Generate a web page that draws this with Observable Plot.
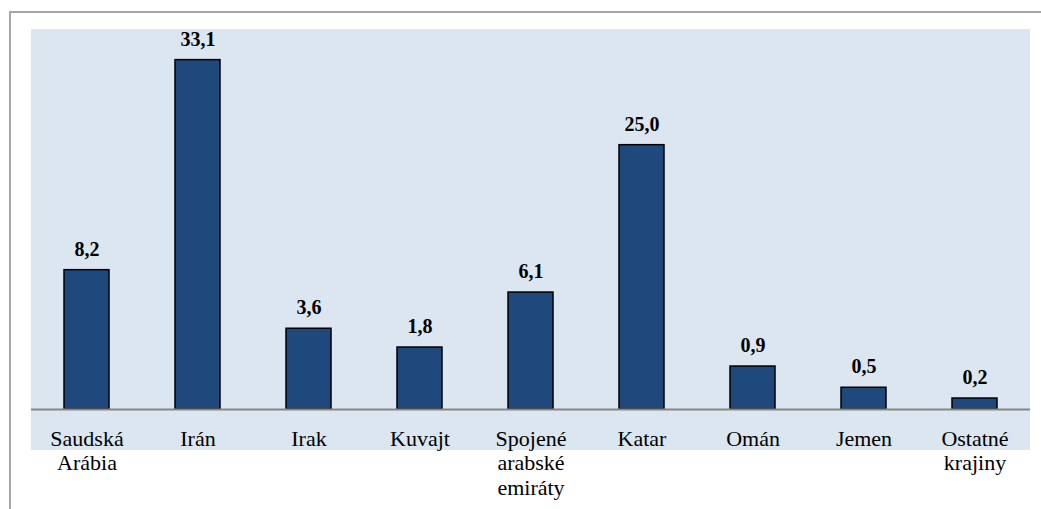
<!DOCTYPE html>
<html>
<head>
<meta charset="utf-8">
<script src="https://cdn.jsdelivr.net/npm/d3@7"></script>
<script src="https://cdn.jsdelivr.net/npm/@observablehq/plot@0.6"></script>
<style>
  html, body { margin: 0; padding: 0; background: #ffffff; }
  #wrap { position: relative; width: 1041px; height: 509px; overflow: hidden; }
  #frameTop { position: absolute; left: 9px; top: 11px; width: 1032px; height: 2px; background: #a6a6a6; }
  #frameLeft { position: absolute; left: 9px; top: 11px; width: 2px; height: 498px; background: #a6a6a6; }
  #bg { position: absolute; left: 31px; top: 29px; width: 999px; height: 421px; background: #dce6f1; }
  #chart { position: absolute; left: 0; top: 0; }
  #chart svg { background: transparent !important; }
  #chart svg, #chart svg text, #chart svg tspan { font-family: "Liberation Serif", "Times New Roman", serif !important; }
</style>
</head>
<body>
<div id="wrap">
  <div id="frameTop"></div>
  <div id="frameLeft"></div>
  <div id="bg"></div>
  <div id="chart"></div>
</div>
<script>
// Categories (line breaks as in the reference labels)
const countries = [
  "Saudská\nArábia", "Irán", "Irak", "Kuvajt", "Spojené\narabské\nemiráty",
  "Katar", "Omán", "Jemen", "Ostatné\nkrajiny"
];
// Printed data labels
const labelValues = [8.2, 33.1, 3.6, 1.8, 6.1, 25.0, 0.9, 0.5, 0.2];
// Bar heights as drawn in the reference (same axis units)
const barHeights = [13.2, 33.1, 7.65, 5.87, 11.08, 25.04, 4.07, 2.06, 1.04];

const data = countries.map((c, i) => ({
  country: c,
  label: labelValues[i].toFixed(1).replace(".", ","),
  h: barHeights[i]
}));

const chart = Plot.plot({
  width: 1041,
  height: 509,
  marginLeft: 31,
  marginRight: 11,
  marginTop: 29,
  marginBottom: 100,
  style: { background: "transparent", fontFamily: "Liberation Serif, serif" },
  x: { domain: countries, paddingInner: 0.595, paddingOuter: 0.2975, label: null },
  y: { domain: [0, 36], axis: null },
  marks: [
    Plot.barY(data, {
      x: "country", y: "h",
      fill: "#1f497d", stroke: "#000000", strokeWidth: 1.5
    }),
    Plot.ruleY([0], { stroke: "#868686", strokeWidth: 2 }),
    Plot.text(data, {
      x: "country", y: "h", text: "label",
      dy: -21, fontSize: 20, fontWeight: "bold", fill: "#000000",
      fontFamily: "Liberation Serif, serif",
      lineAnchor: "middle"
    }),
    Plot.axisX({
      tickSize: 0, tickPadding: 19, fontSize: 22, lineHeight: 1.11,
      fontFamily: "Liberation Serif, serif",
      fill: "#000000", label: null
    })
  ]
});
document.getElementById("chart").appendChild(chart);
</script>
</body>
</html>
